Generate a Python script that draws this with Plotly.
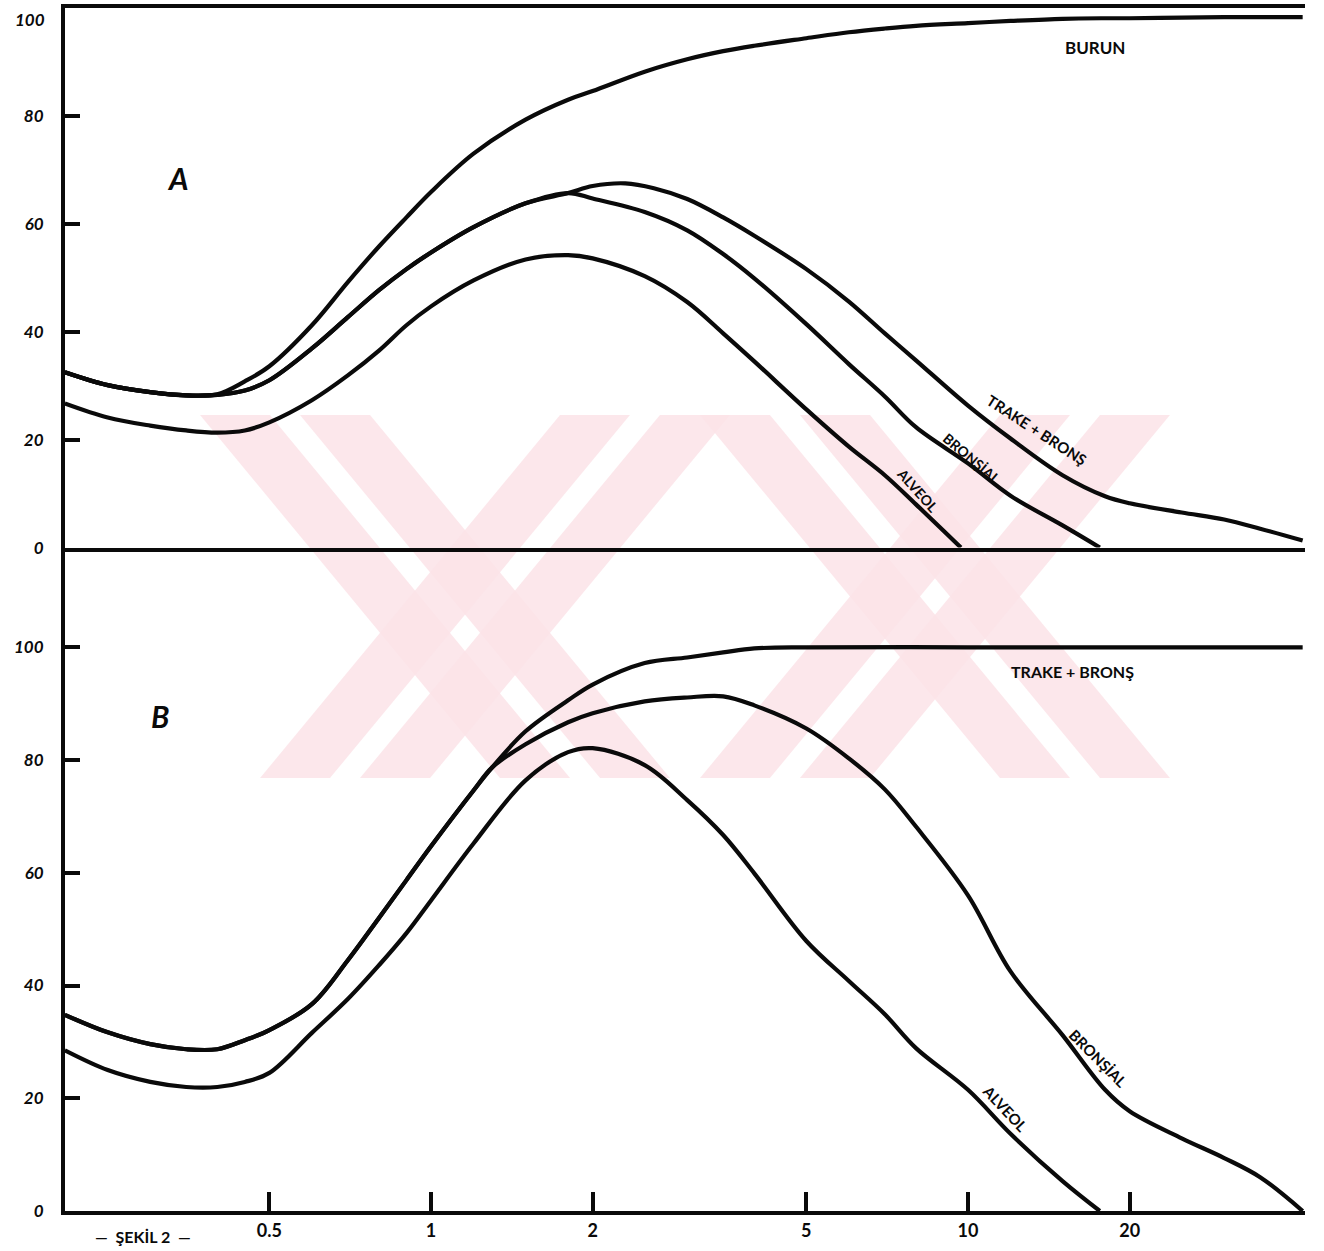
import plotly.graph_objects as go

# ---------------- data (particle size in micron, deposition %) ----------------
x_burun_a = [0.208, 0.25, 0.3, 0.35, 0.4, 0.45, 0.5, 0.6, 0.7, 0.8, 0.9, 1, 1.2, 1.5, 1.8, 2, 2.5, 3,
             3.5, 4, 5, 6, 7, 8, 10, 12, 15, 18, 20, 25, 30, 35, 42]
y_burun_a = [32.5, 30.1, 28.8, 28.2, 28.4, 30.8, 33.6, 41.2, 49.2, 55.8, 61.2, 65.9, 73.0, 79.3, 83.0, 84.6,
             88.2, 90.5, 92.0, 93.0, 94.4, 95.5, 96.2, 96.7, 97.2, 97.6, 98.0, 98.1, 98.1, 98.2, 98.3, 98.3, 98.3]

x_trake_a = [0.208, 0.25, 0.3, 0.35, 0.4, 0.45, 0.5, 0.6, 0.7, 0.8, 0.9, 1, 1.2, 1.5, 1.8, 2, 2.3, 2.6, 3,
             3.5, 4, 5, 6, 7, 8, 10, 12, 15, 18, 20, 25, 30, 35, 42]
y_trake_a = [32.5, 30.1, 28.8, 28.2, 28.3, 29.1, 31.0, 36.9, 42.7, 47.7, 51.6, 54.7, 59.4, 63.8, 65.7, 67.0,
             67.5, 66.6, 64.6, 61.2, 57.8, 51.6, 45.6, 39.7, 34.7, 26.3, 20.2, 13.4, 9.5, 8.2, 6.5, 5.2, 3.5, 1.3]

x_bronsial_a = [0.208, 0.25, 0.3, 0.35, 0.4, 0.45, 0.5, 0.6, 0.7, 0.8, 0.9, 1, 1.2, 1.5, 1.8, 2, 2.5, 3,
                3.5, 4, 5, 6, 7, 8, 10, 12, 15, 17.6]
y_bronsial_a = [32.5, 30.1, 28.8, 28.2, 28.3, 29.1, 31.0, 36.9, 42.7, 47.7, 51.6, 54.7, 59.4, 63.8, 65.7, 64.7,
                62.2, 58.8, 54.4, 49.9, 41.4, 34.0, 28.0, 22.3, 15.6, 9.6, 4.1, 0]

x_alveol_a = [0.208, 0.25, 0.3, 0.35, 0.4, 0.45, 0.5, 0.6, 0.7, 0.8, 0.9, 1, 1.2, 1.5, 1.8, 2, 2.5, 3,
              3.5, 4, 5, 6, 7, 8, 9.7]
y_alveol_a = [26.7, 24.1, 22.6, 21.7, 21.3, 21.7, 23.2, 27.3, 31.9, 36.5, 41.2, 44.7, 49.5, 53.4, 54.2, 53.6,
              50.3, 45.5, 39.7, 34.5, 25.6, 18.7, 13.4, 8.0, 0]

x_trake_b = [0.208, 0.25, 0.3, 0.35, 0.4, 0.45, 0.5, 0.6, 0.7, 0.8, 0.9, 1, 1.2, 1.3, 1.5, 1.8, 2, 2.5, 3,
             3.5, 4, 5, 10, 20, 42]
y_trake_b = [34.8, 31.7, 29.6, 28.7, 28.7, 30.3, 32.1, 36.7, 44.5, 52.0, 58.7, 64.7, 74.6, 78.7, 85.1, 90.6,
             93.4, 97.2, 98.2, 99.1, 99.8, 100, 100, 100, 100]

x_bronsial_b = [0.208, 0.25, 0.3, 0.35, 0.4, 0.45, 0.5, 0.6, 0.7, 0.8, 0.9, 1, 1.2, 1.3, 1.5, 1.8, 2, 2.5, 3,
                3.5, 4, 5, 6, 7, 8, 10, 12, 15, 18, 20, 25, 30, 35, 42]
y_bronsial_b = [34.8, 31.7, 29.6, 28.7, 28.7, 30.3, 32.1, 36.7, 44.5, 52.0, 58.7, 64.7, 74.6, 78.7, 82.8, 86.7,
                88.3, 90.4, 91.1, 91.3, 89.7, 85.6, 80.3, 74.8, 68.2, 56.0, 42.5, 31.2, 21.5, 17.7, 12.9, 9.4,
                6.0, 0]

x_alveol_b = [0.208, 0.25, 0.3, 0.35, 0.4, 0.45, 0.5, 0.6, 0.7, 0.8, 0.9, 1, 1.2, 1.5, 1.8, 2, 2.5, 3,
              3.5, 4, 5, 6, 7, 8, 10, 12, 15, 17.6]
y_alveol_b = [28.5, 25.0, 22.9, 22.0, 22.0, 22.9, 24.5, 31.6, 37.6, 43.6, 49.3, 55.1, 65.2, 76.4, 81.4, 82.1,
              79.1, 72.9, 66.7, 59.9, 47.9, 40.8, 34.9, 28.9, 21.5, 13.7, 5.3, 0]

x_tick_vals = [0.5, 1, 2, 5, 10, 20]
x_tick_text = ["0.5", "1", "2", "5", "10", "20"]
y_tick_vals = [0, 20, 40, 60, 80, 100]
y_tick_text_a = ["0", "20", "40", "60", "80", ""]
y_tick_text_b = ["0", "20", "40", "60", "80", "100"]

# ---------------- figure ----------------
INK = "#0a0a0a"
LW = 4.2
fig = go.Figure()

def add_curve(xs, ys, xa, ya, name):
    fig.add_trace(go.Scatter(x=xs, y=ys, xaxis=xa, yaxis=ya, mode="lines", name=name,
                             line=dict(color=INK, width=LW, shape="spline", smoothing=1.0),
                             hoverinfo="x+y+name", showlegend=False, cliponaxis=False))

add_curve(x_burun_a, y_burun_a, "x2", "y", "Burun")
add_curve(x_trake_a, y_trake_a, "x2", "y", "Trake + Bronş")
add_curve(x_bronsial_a, y_bronsial_a, "x2", "y", "Bronşial")
add_curve(x_alveol_a, y_alveol_a, "x2", "y", "Alveol")
add_curve(x_trake_b, y_trake_b, "x", "y2", "Trake + Bronş")
add_curve(x_bronsial_b, y_bronsial_b, "x", "y2", "Bronşial")
add_curve(x_alveol_b, y_alveol_b, "x", "y2", "Alveol")

tick_font = dict(family="Lato, DejaVu Sans", size=18, color=INK, weight="bold")
ytick_font = dict(family="Lato, DejaVu Sans", size=17, color=INK, style="italic", weight="bold")

xr = [-0.6816, 1.6276]
SPLIT = 0.5515

common_y = dict(showline=True, linewidth=4, linecolor=INK, ticks="inside", ticklen=15, tickwidth=4,
                tickcolor=INK, tickvals=y_tick_vals, tickfont=ytick_font,
                ticklabelstandoff=14, ticklabeloverflow="allow", showgrid=False, zeroline=False,
                automargin=False)

fig.update_layout(
    width=1324, height=1251,
    margin=dict(l=65, r=19, t=8, b=40),
    paper_bgcolor="white", plot_bgcolor="rgba(0,0,0,0)",
    xaxis=dict(type="log", range=xr, domain=[0, 1], anchor="y2", showline=True, linewidth=4,
               linecolor=INK, ticks="inside", ticklen=19, tickwidth=4, tickcolor=INK,
               tickvals=x_tick_vals, ticktext=x_tick_text, tickfont=tick_font,
               ticklabeloverflow="allow", showgrid=False, zeroline=False, automargin=False),
    xaxis2=dict(type="log", range=xr, domain=[0, 1], anchor="y", matches="x", showline=True,
                linewidth=4, linecolor=INK, mirror=True, showticklabels=False, ticks="",
                showgrid=False, zeroline=False, automargin=False),
    yaxis=dict(domain=[SPLIT, 1], range=[0, 100], anchor="x2", ticktext=y_tick_text_a, **common_y),
    yaxis2=dict(domain=[0, SPLIT], range=[0, 117.7], anchor="x", ticktext=y_tick_text_b, **common_y),
)

# faint pink watermark (decoration, in paper fractions)
def pp(px, py):
    return (px - 65) / 1240, (1211 - py) / 1203

pink = "rgba(252, 227, 232, 0.85)"
bands = [
    (200, 270, 500, 570), (300, 370, 600, 670),
    (560, 630, 260, 330), (660, 730, 360, 430),
    (700, 770, 1000, 1070), (800, 870, 1100, 1170),
    (1000, 1070, 700, 770), (1100, 1170, 800, 870),
]
for tl, tr, bl, br in bands:
    p = [pp(tl, 415), pp(tr, 415), pp(br, 778), pp(bl, 778)]
    path = "M " + " L ".join(f"{a:.4f},{b:.4f}" for a, b in p) + " Z"
    fig.add_shape(type="path", path=path, xref="paper", yref="paper", fillcolor=pink,
                  line=dict(width=0), layer="below")

ann_font = dict(family="Lato, DejaVu Sans", size=15, color=INK, weight="bold")
def note(text, x, y, xref, yref, angle=0, size=15, italic=False):
    f = dict(ann_font)
    f["size"] = size
    if italic:
        f["style"] = "italic"
    fig.add_annotation(text=text, x=x, y=y, xref=xref, yref=yref, textangle=angle,
                       xanchor="center", yanchor="middle", showarrow=False, font=f)

# top "100" label of panel A, nudged inside the page
note("100", -0.028, 0.9905, "paper", "paper", size=17, italic=True)
note("A", -0.471, 68.5, "x2", "y", size=30, italic=True)
note("B", -0.505, 87.9, "x", "y2", size=30, italic=True)
note("BURUN", 1.2365, 92.6, "x2", "y", size=17)
note("TRAKE + BRONŞ", 1.1285, 21.7, "x2", "y", angle=33)
note("BRONŞİAL", 1.0074, 16.5, "x2", "y", angle=40, size=14)
note("ALVEOL", 0.907, 10.6, "x2", "y", angle=48, size=14)
note("TRAKE + BRONŞ", 1.1937, 95.7, "x", "y2", size=16)
note("BRONŞİAL", 1.242, 27.1, "x", "y2", angle=45)
note("ALVEOL", 1.069, 18.3, "x", "y2", angle=47)
note("—  ŞEKİL 2  —", 0.063, -0.0215, "paper", "paper", size=16)

fig.write_html("out.html", config={"displayModeBar": False},
               post_script="document.body.style.margin='0';document.body.style.overflow='hidden';")
